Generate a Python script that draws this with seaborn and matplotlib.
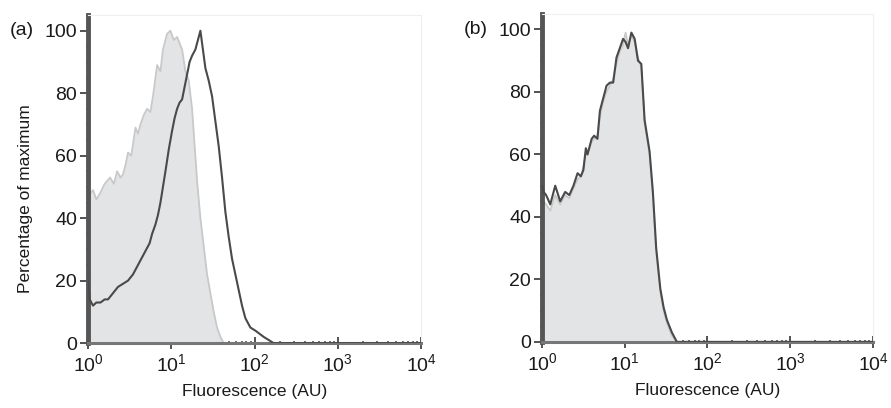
import numpy as np
import pandas as pd
import matplotlib
matplotlib.use("Agg")
import matplotlib.pyplot as plt
import seaborn as sns
from matplotlib.ticker import FixedLocator, NullFormatter

# histogram data, x given as log10(fluorescence)
a_ctrl_log = [0.00, 0.03, 0.06, 0.10, 0.145, 0.20, 0.265, 0.31, 0.35, 0.39, 0.42, 0.45, 0.48,
              0.52, 0.57, 0.60, 0.63, 0.67, 0.71, 0.75, 0.78, 0.83, 0.87, 0.90, 0.95, 0.99,
              1.03, 1.07, 1.10, 1.13, 1.17, 1.21, 1.25, 1.31, 1.35, 1.39, 1.43, 1.47, 1.51,
              1.55, 1.59, 1.63, 2.0, 3.0, 4.0]
a_ctrl_val = [47, 48, 49, 46, 48, 51, 53, 51, 55, 53, 54, 57, 61,
              60, 69, 67, 70, 73, 75, 74, 79, 89, 87, 94, 99, 100,
              97, 98, 96, 94, 87, 84, 75, 52, 40, 31, 22, 16, 10,
              5, 2, 0, 0, 0, 0]

a_test_log = [0.00, 0.02, 0.06, 0.10, 0.15, 0.20, 0.24, 0.30, 0.36, 0.42, 0.48, 0.54, 0.58,
              0.62, 0.66, 0.70, 0.74, 0.77, 0.81, 0.84, 0.87, 0.90, 0.93, 0.97, 1.01, 1.04,
              1.07, 1.10, 1.13, 1.16, 1.19, 1.22, 1.25, 1.29, 1.32, 1.35, 1.38, 1.41, 1.45,
              1.49, 1.53, 1.57, 1.61, 1.65, 1.69, 1.73, 1.77, 1.81, 1.85, 1.89, 1.95, 2.01,
              2.06, 2.11, 2.17, 2.23, 3.0, 4.0]
a_test_val = [20, 14, 12, 13, 13, 14, 14, 16, 18, 19, 20, 22, 24,
              26, 28, 30, 32, 35, 38, 41, 45, 50, 55, 62, 68, 72,
              75, 77, 78, 82, 86, 90, 92, 94, 97, 100, 94, 88, 84,
              79, 71, 63, 53, 42, 34, 27, 22, 17, 12, 8, 5, 4,
              3, 2, 1, 0, 0, 0]

b_test_log = [0.00, 0.02, 0.05, 0.10, 0.16, 0.22, 0.28, 0.33, 0.38, 0.43, 0.47, 0.50, 0.53,
              0.55, 0.60, 0.63, 0.67, 0.70, 0.74, 0.78, 0.82, 0.86, 0.90, 0.94, 0.98,
              1.01, 1.04, 1.08, 1.12, 1.16, 1.20, 1.24, 1.30, 1.34, 1.38, 1.43, 1.47, 1.51,
              1.57, 1.63, 2.5, 4.0]
b_test_val = [50, 48, 47, 44, 50, 45, 48, 47, 50, 54, 53, 55, 62,
              60, 65, 66, 65, 74, 78, 82, 83, 83, 91, 94, 97,
              96, 94, 99, 97, 90, 89, 71, 61, 48, 30, 17, 11, 7,
              3, 0, 0, 0]
b_ctrl_val = [46, 45, 44, 42, 47, 44, 47, 46, 49, 52, 53, 56, 60,
              60, 64, 65, 66, 72, 77, 80, 82, 84, 89, 93, 95,
              99, 95, 98, 96, 91, 88, 70, 60, 47, 29, 16, 10, 6,
              2, 0, 0, 0]

panels = ["(a)", "(b)"]
y_ticks = [0, 20, 40, 60, 80, 100]
x_ticks = [1, 10, 100, 1000, 10000]
x_labels = ["$\\mathregular{10^{0}}$", "$\\mathregular{10^{1}}$", "$\\mathregular{10^{2}}$",
            "$\\mathregular{10^{3}}$", "$\\mathregular{10^{4}}$"]

sns.set_style("ticks")
plt.rcParams["font.family"] = ["Liberation Sans", "DejaVu Sans"]
plt.rcParams["mathtext.fontset"] = "custom"
plt.rcParams["mathtext.rm"] = "Liberation Sans"

fill_c = "#e3e4e6"
ctrl_c = "#c9c9c9"
test_c = "#4a4a4a"

fig = plt.figure(figsize=(8.91, 4.08), dpi=100)
ax_a = fig.add_axes([0.0988, 0.159, 0.3737, 0.804])
ax_b = fig.add_axes([0.6083, 0.162, 0.3715, 0.804])

data = [
    (a_ctrl_log, a_ctrl_val, a_test_log, a_test_val),
    (b_test_log, b_ctrl_val, b_test_log, b_test_val),
]

for ax, name, (cl, cv, tl, tv) in zip([ax_a, ax_b], panels, data):
    cx = 10 ** np.array(cl)
    tx = 10 ** np.array(tl)
    ax.fill_between(cx, 0, cv, color=fill_c, lw=0, zorder=1)
    sns.lineplot(x=cx, y=cv, ax=ax, color=ctrl_c, lw=1.3, zorder=2)
    sns.lineplot(x=tx, y=tv, ax=ax, color=test_c, lw=1.5, zorder=3)
    ax.set_xscale("log")
    ax.set_xlim(1, 10000)
    ax.set_ylim(0, 105)
    ax.set_xticks(x_ticks)
    ax.set_xticklabels(x_labels)
    ax.set_yticks(y_ticks)
    ax.yaxis.set_minor_locator(FixedLocator(np.arange(0, 105, 5)))
    ax.xaxis.set_minor_formatter(NullFormatter())
    for s in ["top", "right"]:
        ax.spines[s].set_color("#efefef")
        ax.spines[s].set_linewidth(0.8)
    ax.spines["left"].set_linewidth(3.5)
    ax.spines["left"].set_color("#555555")
    ax.spines["bottom"].set_linewidth(2.2)
    ax.spines["bottom"].set_color("#777777")
    ax.tick_params(axis="both", which="major", labelsize=14, colors="#444444",
                   labelcolor="#1a1a1a", width=1.3, length=6, pad=2)
    ax.tick_params(axis="x", which="major", direction="inout", length=9, pad=3)
    ax.tick_params(axis="both", which="minor", direction="inout", length=3.5,
                   width=1.2, colors="#555555")
    ax.set_xlabel("Fluorescence (AU)", fontsize=12.5, color="#1a1a1a", labelpad=6)
    ax.text(-0.235, 100, name, transform=ax.get_yaxis_transform(), fontsize=14,
            ha="left", va="center", color="#1a1a1a")

ax_a.set_ylabel("Percentage of maximum", fontsize=12.5, color="#1a1a1a")
ax_a.yaxis.set_label_coords(-0.165, 0.44)
ax_b.set_ylabel("")

fig.savefig("out.png", dpi=100)
